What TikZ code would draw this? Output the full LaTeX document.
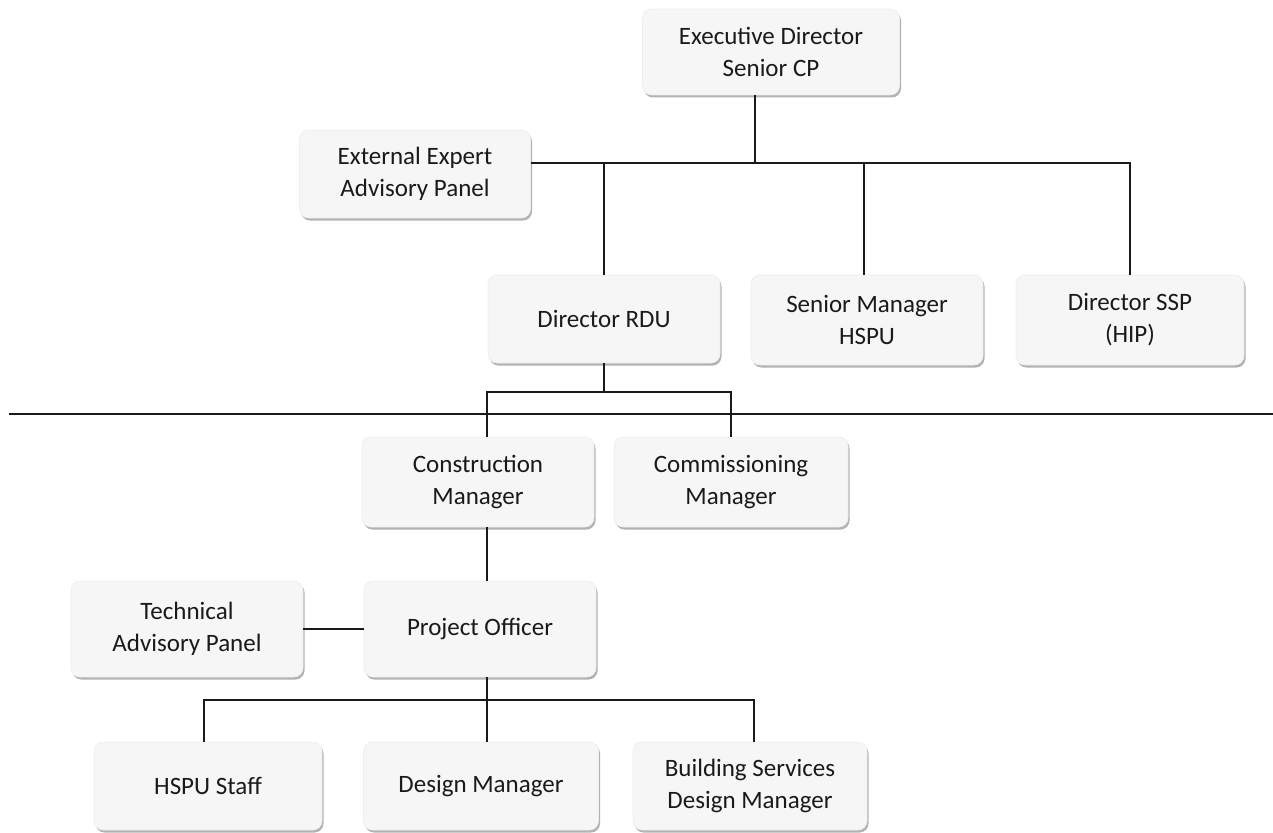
\documentclass[tikz,border=0pt]{standalone}
\usepackage{fontspec}
\setmainfont{Carlito}
\usetikzlibrary{shadows}
\definecolor{ink}{HTML}{1A1A1A}
\definecolor{boxfill}{HTML}{F6F6F6}
\tikzset{
  orgbox/.style={rounded corners=9pt, fill=boxfill, draw=gray!14, line width=0.6pt,
    drop shadow={shadow xshift=1.5pt, shadow yshift=-2.5pt, fill=gray!75, opacity=0.8},
    align=center, text=ink, inner sep=0pt,
    font=\fontsize{25}{32}\selectfont},
  link/.style={draw=ink, line width=1.4pt},
}
\begin{document}
\begin{tikzpicture}[x=1pt,y=-1pt]
\useasboundingbox (0,0) rectangle (1273,832);

% upper level
\node[orgbox, minimum width=257, minimum height=86] (exec)   at (771,52)  {Executive Director\\Senior CP};
\node[orgbox, minimum width=231, minimum height=88] (ext)    at (415,174) {External Expert\\Advisory Panel};
\node[orgbox, minimum width=232, minimum height=88] (rdu)    at (604,319) {Director RDU};
\node[orgbox, minimum width=232, minimum height=90] (senior) at (867,320) {Senior Manager\\HSPU};
\node[orgbox, minimum width=228, minimum height=90] (ssp)    at (1130,320) {Director SSP\\(HIP)};

% lower level
\node[orgbox, minimum width=232, minimum height=90] (constr) at (478,482) {Construction\\Manager};
\node[orgbox, minimum width=234, minimum height=90] (comm)   at (731,482) {Commissioning\\Manager};
\node[orgbox, minimum width=232, minimum height=96] (tech)   at (187,629) {Technical\\Advisory Panel};
\node[orgbox, minimum width=232, minimum height=96] (proj)   at (480,629) {Project Officer};
\node[orgbox, minimum width=228, minimum height=88] (hspu)   at (208,786) {HSPU Staff};
\node[orgbox, minimum width=235, minimum height=88] (design) at (481,786) {Design Manager};
\node[orgbox, minimum width=234, minimum height=88] (bs)     at (750,786) {Building Services\\Design Manager};

% junction points of the connector lines
\coordinate (top)  at (755,163);
\coordinate (c1)   at (487,392);
\coordinate (c2)   at (731,392);
\coordinate (b1)   at (204,700);
\coordinate (b3)   at (754,700);
\coordinate (sepL) at (9,414);
\coordinate (sepR) at (1273,414);

% executive bus
\draw[link] (exec.south -| top) -- (top);
\draw[link] (ext.east |- top) -- (ssp.north |- top) -- (ssp.north);
\draw[link] (rdu.north |- top) -- (rdu.north);
\draw[link] ([xshift=-3pt]senior.north |- top) -- ([xshift=-3pt]senior.north);

% dividing line
\draw[ink, line width=1.6pt] (sepL) -- (sepR);

% RDU to managers
\draw[link] (rdu.south) -- (rdu.south |- c1);
\draw[link] (constr.north -| c1) -- (c1) -- (c2) -- (comm.north -| c2);

% construction to project officer
\draw[link] (constr.south -| c1) -- (proj.north -| c1);
\draw[link] (tech.east) -- (proj.west);

% project officer to staff
\draw[link] (proj.south -| c1) -- (c1 |- b1);
\draw[link] (hspu.north -| b1) -- (b1) -- (b3) -- (bs.north -| b3);
\draw[link] (c1 |- b1) -- (design.north -| c1);
\end{tikzpicture}
\end{document}
